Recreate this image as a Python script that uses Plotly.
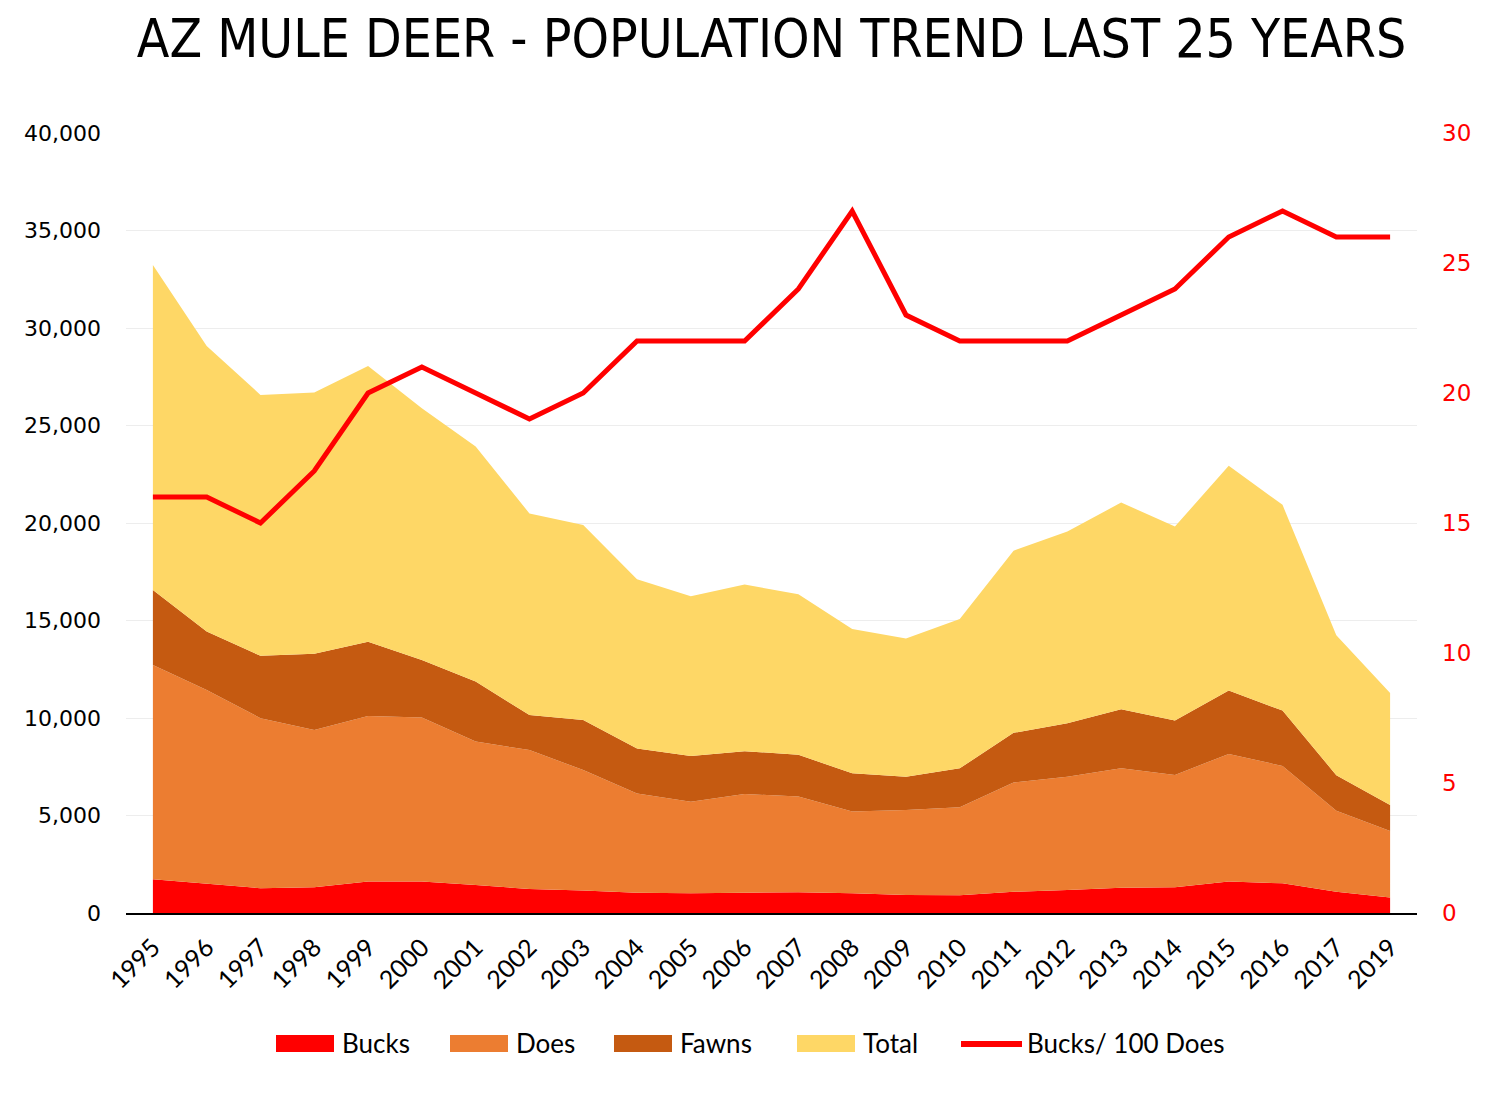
import plotly.graph_objects as go

years = ["1995", "1996", "1997", "1998", "1999", "2000", "2001", "2002", "2003", "2004",
         "2005", "2006", "2007", "2008", "2009", "2010", "2011", "2012", "2013", "2014",
         "2015", "2016", "2017", "2019"]

bucks = [1730, 1490, 1270, 1320, 1610, 1610, 1440, 1230, 1160, 1040,
         1010, 1040, 1060, 1010, 920, 910, 1090, 1180, 1300, 1320,
         1610, 1520, 1090, 790]
does = [10990, 9950, 8720, 8070, 8490, 8420, 7350, 7130, 6170, 5090,
        4700, 5060, 4910, 4190, 4360, 4510, 5600, 5810, 6120, 5760,
        6550, 6020, 4150, 3420]
fawns = [3840, 2990, 3200, 3900, 3815, 2940, 3080, 1790, 2570, 2310,
         2340, 2200, 2140, 1970, 1710, 2000, 2550, 2740, 3030, 2790,
         3250, 2840, 1830, 1330]
total = [16670, 14650, 13380, 13400, 14140, 12910, 12050, 10340, 10000, 8670,
         8200, 8540, 8240, 7390, 7090, 7660, 9340, 9830, 10600, 9950,
         11520, 10550, 7180, 5740]
bucks_per_100_does = [16, 16, 15, 17, 20, 21, 20, 19, 20, 22,
                      22, 22, 24, 27, 23, 22, 22, 22, 23, 24,
                      26, 27, 26, 26]

area_names = ["Bucks", "Does", "Fawns", "Total"]
area_values = [bucks, does, fawns, total]
area_colors = ["#FF0000", "#EC7D31", "#C55A11", "#FED766"]
line_name = "Bucks/ 100 Does"
line_color = "#FF0000"

W, H = 1500, 1093
ML, MR, MT, MB = 126, 83, 133, 180
PW, PH = W - ML - MR, H - MT - MB


def px_x(px):
    return (px - ML) / PW


def px_y(py):
    return (H - MB - py) / PH


fig = go.Figure()
for name, vals, col in zip(area_names, area_values, area_colors):
    fig.add_trace(go.Scatter(
        x=years, y=vals, name=name, mode="lines",
        stackgroup="one", line=dict(width=0, color=col),
        fillcolor=col, hoverinfo="x+y", showlegend=False,
    ))

fig.add_trace(go.Scatter(
    x=years, y=bucks_per_100_does, name=line_name, mode="lines",
    line=dict(color=line_color, width=5), yaxis="y2", showlegend=False,
))

# custom legend (large swatches like the original)
legend_font = dict(family="Lato, Carlito, sans-serif", size=26, color="black")
swatch_left = [276, 450, 614, 797]
shapes, annotations = [], []
for name, col, x0 in zip(area_names, area_colors, swatch_left):
    shapes.append(dict(
        type="rect", xref="paper", yref="paper",
        x0=px_x(x0), x1=px_x(x0 + 58), y0=px_y(1052), y1=px_y(1035),
        fillcolor=col, line=dict(width=0), layer="above",
    ))
    annotations.append(dict(
        text=name, xref="paper", yref="paper", x=px_x(x0 + 64), y=px_y(1043),
        xanchor="left", yanchor="middle", showarrow=False, font=legend_font,
    ))
shapes.append(dict(
    type="line", xref="paper", yref="paper",
    x0=px_x(961), x1=px_x(1022), y0=px_y(1044), y1=px_y(1044),
    line=dict(color=line_color, width=6), layer="above",
))
annotations.append(dict(
    text=line_name, xref="paper", yref="paper", x=px_x(1025), y=px_y(1043),
    xanchor="left", yanchor="middle", showarrow=False, font=legend_font,
))

narrow = "Liberation Sans Narrow, Arial Narrow, DejaVu Sans Condensed, sans-serif"

fig.update_layout(
    width=W, height=H,
    margin=dict(l=ML, r=MR, t=MT, b=MB),
    paper_bgcolor="white", plot_bgcolor="white",
    title=dict(
        text="AZ MULE DEER - POPULATION TREND LAST 25 YEARS",
        font=dict(family=narrow, size=53, color="black"),
        x=0.5, xanchor="center", xref="paper",
        y=0.965, yanchor="middle", yref="container",
    ),
    xaxis=dict(
        type="category", range=[-0.5, 23.5],
        tickangle=-45, tickfont=dict(family="Lato, Carlito, sans-serif", size=25, color="black"),
        showline=True, linecolor="black", linewidth=2,
        showgrid=False, ticks="", ticklabelstandoff=8,
    ),
    yaxis=dict(
        range=[0, 40000], dtick=5000, tickformat=",",
        tickfont=dict(family="DejaVu Sans, sans-serif", size=22, color="black"),
        showgrid=True, gridcolor="#EDEDED", gridwidth=1,
        zeroline=False, ticks="", ticklabelstandoff=24,
    ),
    yaxis2=dict(
        range=[0, 30], dtick=5, overlaying="y", side="right",
        tickfont=dict(family="DejaVu Sans, sans-serif", size=23, color="#FF0000"),
        showgrid=False, zeroline=False, ticklabelstandoff=24,
    ),
    shapes=shapes,
    annotations=annotations,
    showlegend=False,
)

fig.write_html("out.html")
